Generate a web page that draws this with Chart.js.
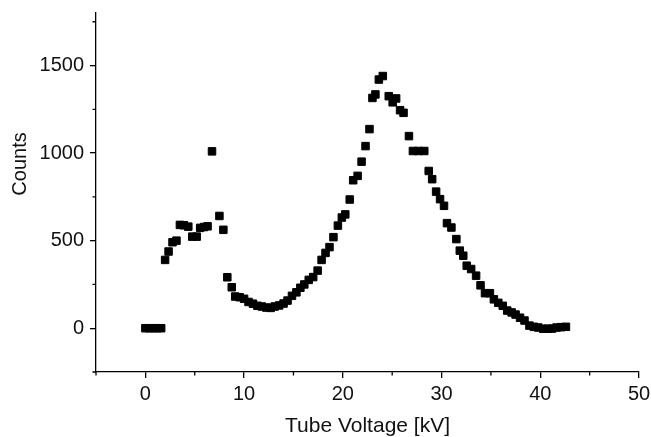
<!DOCTYPE html>
<html>
<head>
<meta charset="utf-8">
<script src="https://cdn.jsdelivr.net/npm/chart.js@4/dist/chart.umd.min.js"></script>
<style>
  html, body { margin: 0; padding: 0; background: #fff; }
  #wrap { width: 651px; height: 437px; }
</style>
</head>
<body>
<div id="wrap"><canvas id="spectrum"></canvas></div>
<script>
const voltage = [
  0.0, 0.4, 0.8, 1.2, 1.6, 2.0, 2.35, 2.75, 3.15, 3.5,
  3.9, 4.35, 4.75, 5.2, 5.55, 5.95, 6.3, 6.75, 7.5, 7.9,
  8.3, 8.75, 9.1, 9.55, 10.0, 10.45, 10.9, 11.35, 11.8, 12.25,
  12.7, 13.1, 13.55, 14.0, 14.4, 14.85, 15.3, 15.7, 16.1, 16.55,
  17.0, 17.45, 17.85, 18.25, 18.65, 19.05, 19.5, 19.9, 20.25, 20.7,
  21.05, 21.5, 21.9, 22.3, 22.7, 23.0, 23.3, 23.65, 24.05, 24.65,
  25.05, 25.4, 25.8, 26.15, 26.7, 27.1, 27.65, 28.25, 28.7, 29.05,
  29.45, 29.85, 30.25, 30.55, 31.0, 31.5, 31.85, 32.2, 32.55, 33.0,
  33.5, 33.95, 34.4, 34.9, 35.3, 35.75, 36.2, 36.65, 37.1, 37.5,
  37.95, 38.4, 38.9, 39.35, 39.8, 40.3, 40.75, 41.2, 41.65, 42.1,
  42.6
];
const counts = [
  0, 0, 0, 0, 0, 390, 438, 491, 500, 590,
  588, 580, 523, 523, 573, 578, 582, 1010, 641, 562,
  291, 234, 181, 177, 168, 150, 140, 128, 124, 118,
  116, 124, 130, 141, 158, 185, 205, 231, 250, 276,
  292, 329, 390, 430, 463, 520, 586, 632, 650, 735,
  845, 870, 951, 1040, 1137, 1315, 1335, 1420, 1440, 1325,
  1290, 1312, 1245, 1230, 1097, 1012, 1012, 1012, 898, 851,
  780, 737, 699, 600, 575, 509, 443, 414, 357, 338,
  300, 245, 200, 200, 165, 145, 128, 101, 90, 78,
  60, 44, 15, 8, 4, -3, -3, -2, 4, 6,
  8
];

const xMajor = [0, 10, 20, 30, 40, 50];
const xMinor = [-5, 5, 15, 25, 35, 45];
const yMajor = [0, 500, 1000, 1500];
const yMinor = [-250, 250, 750, 1250, 1750];

const font = 'Arial, "Liberation Sans", sans-serif';

// short minor ticks on the outside of both axes, plus the y title
const extras = {
  id: 'extras',
  afterDraw(chart) {
    const ctx = chart.ctx;
    const xs = chart.scales.x, ys = chart.scales.y;
    const a = chart.chartArea;
    ctx.save();
    ctx.strokeStyle = '#000';
    ctx.lineWidth = 1.3;
    ctx.beginPath();
    xMinor.forEach(v => {
      const px = xs.getPixelForValue(v);
      ctx.moveTo(px, a.bottom);
      ctx.lineTo(px, a.bottom + 3.5);
    });
    yMinor.forEach(v => {
      const py = ys.getPixelForValue(v);
      ctx.moveTo(a.left, py);
      ctx.lineTo(a.left - 3.5, py);
    });
    ctx.stroke();

    // y title sits a little above the middle of the axis in the original
    ctx.translate(20, 164);
    ctx.rotate(-Math.PI / 2);
    ctx.fillStyle = '#111';
    ctx.font = '20px ' + font;
    ctx.textAlign = 'center';
    ctx.textBaseline = 'middle';
    ctx.fillText('Counts', 0, 0);
    ctx.restore();
  }
};

new Chart(document.getElementById('spectrum'), {
  type: 'scatter',
  data: {
    datasets: [{
      data: voltage.map((v, i) => ({ x: v, y: counts[i] })),
      pointStyle: 'rect',
      pointRadius: 5.3,
      pointBorderWidth: 1,
      backgroundColor: '#000',
      borderColor: '#000'
    }]
  },
  options: {
    responsive: true,
    maintainAspectRatio: false,
    animation: false,
    layout: { padding: { top: 13, right: 12, left: 0, bottom: 0 } },
    plugins: { legend: { display: false }, tooltip: { enabled: false } },
    scales: {
      x: {
        type: 'linear',
        min: -5,
        max: 50,
        afterBuildTicks: s => { s.ticks = xMajor.map(v => ({ value: v })); },
        afterFit: s => { s.height = 65; s.paddingLeft = 0; s.paddingRight = 0; },
        border: { display: true, color: '#000', width: 1.3 },
        grid: { drawOnChartArea: false, drawTicks: true, tickLength: 6, color: '#000', lineWidth: 1.3 },
        ticks: { color: '#111', padding: 4, font: { family: font, size: 20 }, maxRotation: 0 },
        title: {
          display: true,
          text: 'Tube Voltage [kV]',
          color: '#111',
          font: { family: font, size: 21 },
          padding: { top: 0, bottom: -2 }
        }
      },
      y: {
        type: 'linear',
        min: -250,
        max: 1800,
        afterBuildTicks: s => { s.ticks = yMajor.map(v => ({ value: v })); },
        afterFit: s => { s.width = 96; s.paddingTop = 0; s.paddingBottom = 0; },
        border: { display: true, color: '#000', width: 1.3 },
        grid: { drawOnChartArea: false, drawTicks: true, tickLength: 6, color: '#000', lineWidth: 1.3 },
        ticks: {
          color: '#111',
          padding: 6,
          font: { family: font, size: 20 },
          callback: v => String(v)
        },
        title: { display: false }
      }
    }
  },
  plugins: [extras]
});
</script>
</body>
</html>
